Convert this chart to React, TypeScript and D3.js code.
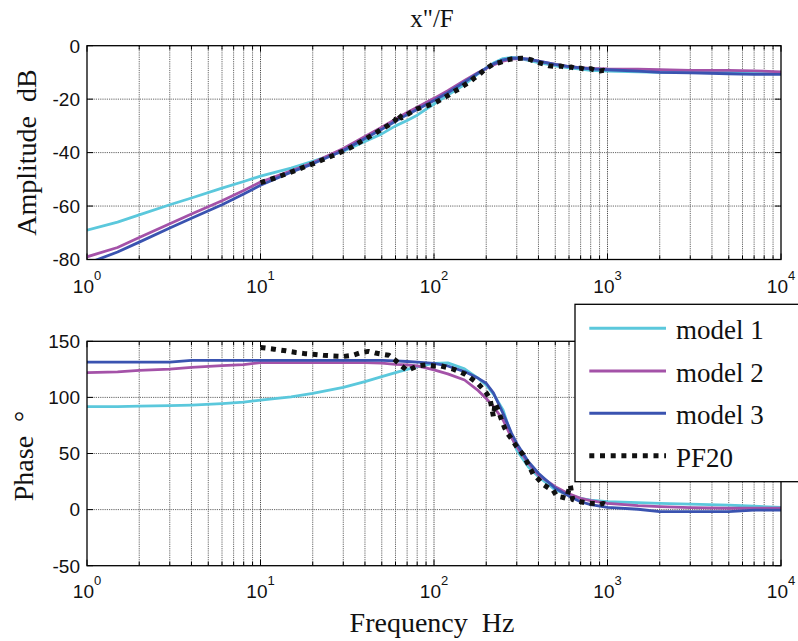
import React from 'react';
import * as d3 from 'd3';

// ---------- data ----------
const freqModel = [1, 1.5, 2, 3, 4, 6, 8, 10, 15, 20, 30, 40, 50, 60, 70, 80, 100, 120, 150, 180, 200, 220, 250, 280, 300, 350, 400, 500, 600, 700, 800, 1000, 1500, 2000, 3000, 5000, 7000, 10000];
const ampModel1 = [-69, -66, -63.3, -59.5, -57, -53.3, -50.8, -48.8, -45.8, -43.3, -39.5, -35.8, -33, -30, -28, -26, -21.8, -18.5, -14.5, -10.5, -8.3, -6.5, -4.8, -4.4, -4.6, -5.5, -6.3, -7.5, -8.3, -8.8, -9.2, -9.5, -9.8, -10, -10, -10, -10, -10];
const ampModel2 = [-79, -75.5, -71.8, -66.6, -63, -58, -54.2, -51, -46.8, -43.8, -38.5, -34, -30.5, -27.5, -25, -23, -19.7, -16.8, -13, -10, -8.5, -7.2, -5.8, -5, -4.8, -5, -5.8, -7, -7.8, -8.2, -8.5, -8.7, -8.8, -9, -9.2, -9.2, -9.4, -9.8];
const ampModel3 = [-81.5, -77.2, -73.5, -68.2, -64.6, -59.5, -55.5, -52.2, -47.3, -44.2, -39.2, -34.7, -31.3, -28.3, -25.8, -23.9, -20.5, -17.6, -13.6, -10.2, -8.4, -6.8, -5.3, -4.7, -4.6, -5, -5.8, -7, -7.8, -8.3, -8.7, -9, -9.5, -10, -10.2, -10.5, -10.7, -10.7];
const phaseModel1 = [91.7, 91.8, 92.2, 92.6, 93.2, 94.5, 95.8, 97.5, 100.5, 103.6, 109, 114, 118.5, 122, 125, 127.5, 130.4, 130.8, 125.5, 117, 111, 103, 88.8, 66, 53, 38, 29.3, 17.5, 13, 10, 8.5, 7, 6.2, 5.6, 4.8, 4, 3, 2];
const phaseModel2 = [122, 122.8, 124, 125.2, 126.8, 128.3, 129.3, 131, 131, 131, 131, 131, 130.5, 129.5, 129, 128, 124.5, 121, 115.5, 106, 99, 92, 79.9, 64, 56, 41.3, 30.8, 20.4, 14, 10, 8, 5.6, 3.5, 2.6, 1.8, 1.2, 1.2, 1.2];
const phaseModel3 = [131.5, 131.5, 131.5, 131.5, 133, 133, 133, 133, 133, 133, 133, 133, 133, 132.5, 132, 131.5, 130.4, 128, 123, 117, 112.6, 104, 85.8, 68, 59, 42.7, 32.4, 19, 12, 7, 4.5, 2, 0.3, -1.8, -1.8, -1.8, -0.5, -0.5];

const freqPF20Amp = [10, 12, 14, 16, 18, 20, 23, 26, 30, 34, 38, 42, 46, 50, 55, 60, 62, 65, 70, 75, 80, 90, 100, 110, 120, 130, 140, 150, 160, 170, 180, 190, 200, 210, 220, 240, 260, 280, 300, 320, 340, 360, 380, 400, 430, 460, 500, 540, 580, 620, 660, 700, 750, 800, 850, 900, 950, 1000];
const ampPF20 = [-51.2, -49.6, -48, -46.6, -45.3, -44.2, -42.6, -41.2, -39.4, -37.7, -35.8, -34.2, -32.7, -31.2, -29.6, -27.8, -25.5, -27, -25.8, -24.6, -23.6, -22.6, -21.6, -20.1, -18.7, -17.2, -16.1, -14.7, -13.6, -12.2, -11.1, -9.7, -8.6, -7.7, -6.8, -6.3, -5.4, -5, -4.8, -4.7, -4.8, -5.2, -5.8, -6.3, -6.9, -7.5, -7.8, -7.6, -8.3, -8, -8.6, -8.4, -9, -8.6, -9.2, -9.5, -9.2, -9.8];
const freqPF20Phase = [10, 12, 14, 16, 18, 20, 23, 26, 30, 34, 38, 42, 46, 50, 55, 60, 65, 70, 75, 80, 90, 100, 110, 120, 130, 140, 150, 160, 170, 180, 190, 200, 210, 220, 225, 235, 245, 255, 265, 280, 300, 326, 350, 373, 400, 425, 460, 485, 510, 550, 580, 610, 630, 660, 700, 750, 800, 850, 900, 950, 1000];
const phasePF20 = [144.5, 143, 141.5, 140, 139, 138.5, 137.5, 137, 136.5, 137.5, 140, 141, 139.5, 138.5, 137.5, 133, 128, 124, 126, 128, 129, 128, 128, 126.5, 125, 123, 121, 118, 115, 112, 108, 104, 99, 83, 95, 88, 80, 73, 68, 63, 56, 49, 40, 31.5, 27, 22.6, 19, 17.5, 12, 11, 10, 22, 9, 8, 7, 6, 5.6, 5.5, 4.5, 5.5, 4];

const seriesNames = ['model 1', 'model 2', 'model 3', 'PF20'];
const seriesColors = ['#5bc8dc', '#a452a8', '#3a53b0', '#111111'];
const xDecades = [1, 10, 100, 1000, 10000];
const ampTicks = [0, -20, -40, -60, -80];
const phaseTicks = [150, 100, 50, 0, -50];

const SERIF = '"Liberation Serif", "Times New Roman", serif';
const SANS = '"Liberation Sans", Arial, Helvetica, sans-serif';

const X0 = 87, X1 = 781;
const x = d3.scaleLog().domain([1, 10000]).range([X0, X1]);

const minorPositions: number[] = [];
[1, 10, 100, 1000].forEach((d) => {
  for (let k = 1; k <= 9; k++) minorPositions.push(d * k);
});
minorPositions.push(10000);

type Series = { f: number[]; v: number[]; color: string; dashed: boolean };

function Panel({ y, yTicks, series, clipId, top, bottom, xLabelBaseline }: {
  y: d3.ScaleLinear<number, number>; yTicks: number[]; series: Series[]; clipId: string;
  top: number; bottom: number; xLabelBaseline: number;
}) {
  const line = (s: Series) =>
    d3.line<number>().x((_, i) => x(s.f[i])).y((v) => y(v))(s.v) || '';
  return (
    <g>
      <defs>
        <clipPath id={clipId}>
          <rect x={X0} y={top} width={X1 - X0} height={bottom - top} />
        </clipPath>
      </defs>
      <rect x={X0} y={top} width={X1 - X0} height={bottom - top} fill="#fff" />
      {/* vertical grid */}
      {minorPositions.filter((f) => f > 1 && f < 10000).map((f, i) => (
        <line key={'vg' + i} x1={x(f)} x2={x(f)} y1={top} y2={bottom}
          stroke={xDecades.includes(f) ? '#333' : '#555'} strokeWidth={0.9} strokeDasharray="1.2 1" />
      ))}
      {/* horizontal grid */}
      {yTicks.filter((t) => y(t) > top + 1 && y(t) < bottom - 1).map((t, i) => (
        <line key={'hg' + i} x1={X0} x2={X1} y1={y(t)} y2={y(t)} stroke="#555" strokeWidth={0.9} strokeDasharray="1.2 1" />
      ))}
      {/* ticks top/bottom */}
      {minorPositions.map((f, i) => {
        const len = xDecades.includes(f) ? 6 : 4;
        return (
          <g key={'tk' + i}>
            <line x1={x(f)} x2={x(f)} y1={top} y2={top + len} stroke="#000" strokeWidth={1} />
            <line x1={x(f)} x2={x(f)} y1={bottom} y2={bottom - len} stroke="#000" strokeWidth={1} />
          </g>
        );
      })}
      {yTicks.map((t, i) => (
        <g key={'yt' + i}>
          <line x1={X0} x2={X0 + 6} y1={y(t)} y2={y(t)} stroke="#000" strokeWidth={1} />
          <line x1={X1} x2={X1 - 6} y1={y(t)} y2={y(t)} stroke="#000" strokeWidth={1} />
          <text x={80} y={y(t)} dy="0.36em" textAnchor="end" fontFamily={SANS} fontSize={19} fill="#111">{t}</text>
        </g>
      ))}
      {/* curves */}
      <g clipPath={`url(#${clipId})`}>
        {series.map((s, i) => (
          <path key={'s' + i} d={line(s)} fill="none" stroke={s.color}
            strokeWidth={s.dashed ? 5 : 2.8} strokeDasharray={s.dashed ? '5 5.5' : undefined}
            strokeLinejoin="round" />
        ))}
      </g>
      {/* frame */}
      <rect x={X0} y={top} width={X1 - X0} height={bottom - top} fill="none" stroke="#000" strokeWidth={1.3} />
      {/* x tick labels */}
      {xDecades.map((d, i) => (
        <text key={'xl' + i} x={x(d)} y={xLabelBaseline} textAnchor="middle" fontFamily={SANS} fill="#111">
          <tspan fontSize={19}>10</tspan>
          <tspan fontSize={13} dy={-13}>{Math.round(Math.log10(d))}</tspan>
        </text>
      ))}
    </g>
  );
}

export default function App() {
  const yA = d3.scaleLinear().domain([-80, 0]).range([259.5, 45.7]);
  const yP = d3.scaleLinear().domain([-50, 150]).range([565.7, 341.3]);

  const ampSeries: Series[] = [
    { f: freqModel, v: ampModel1, color: seriesColors[0], dashed: false },
    { f: freqModel, v: ampModel2, color: seriesColors[1], dashed: false },
    { f: freqModel, v: ampModel3, color: seriesColors[2], dashed: false },
    { f: freqPF20Amp, v: ampPF20, color: seriesColors[3], dashed: true },
  ];
  const phaseSeries: Series[] = [
    { f: freqModel, v: phaseModel1, color: seriesColors[0], dashed: false },
    { f: freqModel, v: phaseModel2, color: seriesColors[1], dashed: false },
    { f: freqModel, v: phaseModel3, color: seriesColors[2], dashed: false },
    { f: freqPF20Phase, v: phasePF20, color: seriesColors[3], dashed: true },
  ];

  const legendRows = [328.3, 371, 413.3, 455.7];

  return (
    <svg width={798} height={641} style={{ position: 'absolute', left: 0, top: 0, background: '#fff' }}>
      <rect width={798} height={641} fill="#fff" />
      <text x={432} y={27} textAnchor="middle" fontFamily={SERIF} fontSize={25} fill="#111">x"/F</text>
      <Panel y={yA} yTicks={ampTicks} series={ampSeries} clipId="clipA" top={45.7} bottom={259.5} xLabelBaseline={293} />
      <Panel y={yP} yTicks={phaseTicks} series={phaseSeries} clipId="clipP" top={341.3} bottom={565.7} xLabelBaseline={597.5} />
      <text transform="translate(36,152.5) rotate(-90)" textAnchor="middle" fontFamily={SERIF} fontSize={28} fill="#111" style={{ whiteSpace: 'pre' }}>{'Amplitude  dB'}</text>
      <text transform="translate(33,456) rotate(-90)" textAnchor="middle" fontFamily={SERIF} fontSize={28} fill="#111" style={{ whiteSpace: 'pre' }}>{'Phase  °'}</text>
      <text x={432} y={631.7} textAnchor="middle" fontFamily={SERIF} fontSize={28} fill="#111" style={{ whiteSpace: 'pre' }}>{'Frequency  Hz'}</text>
      {/* legend */}
      <g>
        <rect x={575} y={304.3} width={240} height={177.4} fill="#fff" stroke="#000" strokeWidth={1.3} />
        {seriesNames.map((n, i) => (
          <g key={'lg' + i}>
            <line x1={589.3} x2={666} y1={legendRows[i]} y2={legendRows[i]} stroke={seriesColors[i]}
              strokeWidth={i === 3 ? 5 : 3} strokeDasharray={i === 3 ? '5 5.7' : undefined} />
            <text x={676} y={legendRows[i] + 11} fontFamily={SERIF} fontSize={27} fill="#111">{n}</text>
          </g>
        ))}
      </g>
    </svg>
  );
}
